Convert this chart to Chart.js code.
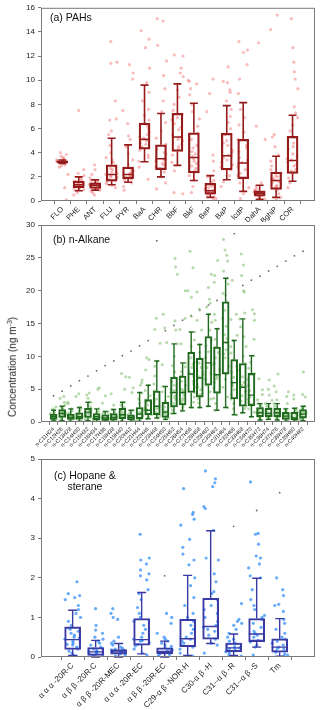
<!DOCTYPE html>
<html>
<head>
<meta charset="utf-8">
<script src="https://cdn.jsdelivr.net/npm/chart.js@4.4.1/dist/chart.umd.min.js"></script>
<style>
  body { margin: 0; background: #fff; width: 320px; height: 710px; position: relative; overflow: hidden;
         font-family: "Liberation Sans", Arial, sans-serif; }
  canvas { position: absolute; left: 0; }
  .lbl { position: absolute; font-size: 10.5px; color: #111; line-height: 11px; }
  #ytitle { position: absolute; left: 12px; top: 367px; font-size: 10px; color: #222; white-space: nowrap;
            transform: translate(-50%, -50%) rotate(-90deg); }
</style>
</head>
<body>
<canvas id="pah" width="320" height="222" style="top:0"></canvas>
<canvas id="alk" width="320" height="238" style="top:212px"></canvas>
<canvas id="hop" width="320" height="262" style="top:448px"></canvas>
<div class="lbl" style="left:50px;top:12px">(a) PAHs</div>
<div class="lbl" style="left:53px;top:234px">(b) n-Alkane</div>
<div class="lbl" style="left:54px;top:470px;text-align:center">(c) Hopane &amp;<br>sterane</div>
<div id="ytitle">Concentration (ng m<sup style="font-size:7px">-3</sup>)</div>

<script>
// ---- (a) PAHs ----
const pahLabels = ["FLO", "PHE", "ANT", "FLU", "PYR", "BaA", "CHR", "BbF", "BkF", "BeP", "BaP", "IcdP", "DahA", "BghiP", "COR"];
const pahLow  = [3.1, 0.85, 0.9, 1.35, 1.55, 3.25, 2.0, 2.95, 1.7, 0.3, 1.76, 0.8, 0.15, 0.3, 1.63];
const pahQ1   = [3.18, 1.1, 1.05, 1.65, 1.85, 4.3, 2.6, 4.1, 2.33, 0.57, 2.58, 1.85, 0.4, 0.95, 2.28];
const pahMed  = [3.25, 1.35, 1.3, 2.2, 2.2, 5.1, 3.5, 5.3, 3.6, 0.85, 3.75, 3.15, 0.65, 1.7, 3.35];
const pahQ3   = [3.32, 1.65, 1.5, 3.0, 2.8, 6.45, 4.65, 7.27, 5.65, 1.46, 5.6, 5.1, 0.85, 2.4, 5.35];
const pahHigh = [3.4, 2.0, 1.75, 5.2, 4.65, 9.6, 7.25, 9.7, 8.1, 2.1, 7.9, 8.15, 1.3, 3.7, 7.1];
const pahPoints = [
  [3.0, 3.1, 3.15, 3.2, 3.22, 3.25, 3.28, 3.3, 3.35, 3.4, 3.5, 3.6, 3.7, 3.85, 4.0, 2.9, 2.8, 2.2, 1.1, 0.1, 3.2, 3.3, 3.45],
  [0.5, 0.7, 0.85, 0.95, 1.05, 1.1, 1.2, 1.3, 1.35, 1.4, 1.5, 1.55, 1.65, 1.75, 1.9, 2.1, 2.3, 2.6, 7.5, 1.25, 1.45, 1.0, 1.6],
  [0.5, 0.7, 0.9, 1.0, 1.1, 1.15, 1.25, 1.3, 1.35, 1.45, 1.5, 1.6, 1.7, 1.9, 2.2, 2.6, 3.0, 1.2, 1.4, 0.8, 1.05],
  [1.1, 1.3, 1.45, 1.6, 1.8, 1.95, 2.1, 2.2, 2.4, 2.6, 2.9, 3.2, 3.6, 4.0, 4.6, 5.5, 5.8, 6.7, 6.8, 8.3, 11.4, 11.5, 13.2, 1.7, 2.0, 2.3, 2.7, 3.4],
  [0.9, 1.2, 1.5, 1.7, 1.9, 2.0, 2.1, 2.3, 2.5, 2.7, 3.0, 3.4, 3.9, 4.5, 5.1, 5.4, 6.4, 7.5, 10.1, 10.6, 11.3, 1.8, 2.2, 2.4, 2.6],
  [1.8, 2.8, 3.3, 3.8, 4.2, 4.5, 4.8, 5.0, 5.2, 5.5, 5.9, 6.3, 6.7, 7.1, 7.6, 8.3, 9.0, 9.8, 11.0, 12.7, 13.4, 14.1, 4.4, 4.7, 5.3, 5.7, 6.1, 3.6],
  [1.0, 1.5, 2.0, 2.4, 2.7, 3.0, 3.3, 3.6, 3.9, 4.3, 4.7, 5.2, 5.8, 6.5, 7.4, 8.3, 9.3, 10.4, 11.6, 12.9, 14.9, 15.1, 2.8, 3.1, 3.4, 4.0],
  [0.6, 0.7, 2.5, 3.2, 3.8, 4.3, 4.7, 5.1, 5.5, 5.9, 6.4, 6.9, 7.5, 8.0, 8.6, 9.2, 10.3, 10.6, 11.0, 12.0, 12.1, 4.5, 5.0, 5.3, 6.1, 6.7, 7.2],
  [0.7, 1.2, 1.7, 2.1, 2.5, 2.9, 3.3, 3.7, 4.1, 4.6, 5.1, 5.6, 6.2, 6.8, 7.4, 8.0, 8.8, 9.3, 9.7, 9.9, 10.0, 2.7, 3.1, 3.5, 3.9, 4.4],
  [0.1, 0.2, 0.35, 0.5, 0.6, 0.7, 0.8, 0.9, 1.0, 1.1, 1.3, 1.5, 1.7, 2.0, 2.5, 3.3, 3.8, 7.4, 8.9, 10.1, 0.65, 0.75, 0.85, 1.2],
  [1.2, 1.6, 2.1, 2.6, 3.0, 3.4, 3.8, 4.2, 4.6, 5.0, 5.5, 6.0, 6.5, 7.0, 7.6, 8.3, 9.0, 9.2, 9.8, 9.9, 11.1, 2.8, 3.2, 3.6, 4.0, 4.8],
  [0.2, 0.6, 1.1, 1.5, 1.9, 2.3, 2.8, 3.2, 3.6, 4.1, 4.6, 5.1, 5.7, 6.3, 6.9, 7.6, 8.9, 10.1, 11.3, 12.3, 12.5, 13.2, 2.1, 2.6, 3.0, 3.4, 4.4],
  [0.05, 0.15, 0.3, 0.4, 0.5, 0.55, 0.6, 0.65, 0.7, 0.8, 0.9, 1.0, 1.2, 1.5, 5.1, 6.2, 13.1, 0.45, 0.6, 0.75],
  [0.1, 0.3, 0.6, 0.9, 1.1, 1.3, 1.5, 1.7, 1.9, 2.1, 2.3, 2.6, 2.9, 3.3, 3.8, 4.5, 5.3, 5.5, 14.2, 15.4, 1.2, 1.6, 1.8, 2.0],
  [1.1, 1.5, 1.9, 2.3, 2.6, 2.9, 3.2, 3.5, 3.9, 4.3, 4.8, 5.3, 5.8, 6.3, 6.9, 7.3, 7.8, 9.3, 10.1, 10.7, 11.5, 12.7, 15.1, 2.5, 3.0, 3.4, 3.7, 4.5]
];

// ---- (b) n-Alkane ----
const alkLabels = ["n-C11H24", "n-C12H26", "n-C13H28", "n-C14H30", "n-C15H32", "n-C16H34", "n-C17H36", "n-C18H38",
  "n-C19H40", "n-C20H42", "n-C21H44", "n-C22H46", "n-C23H48", "n-C24H50", "n-C25H52", "n-C26H54", "n-C27H56",
  "n-C28H58", "n-C29H60", "n-C30H62", "n-C31H64", "n-C32H66", "n-C33H68", "n-C34H70", "n-C35H72", "n-C36H74",
  "n-C37H76", "n-C38H78", "n-C39H80", "n-C40H82"];
const alkLow  = [0.15, 0.2, 0.1, 0.1, 0.2, 0.1, 0.1, 0.1, 0.1, 0.1, 0.1, 0.5, 0.6, 0.4, 1.3, 1.7, 2.2, 2.2, 2.4, 1.8, 2.2, 1.1, 1.4, 0.8, 0.3, 0.4, 0.3, 0.1, 0.1, 0.2];
const alkQ1   = [0.4, 0.7, 0.4, 0.45, 0.7, 0.35, 0.25, 0.3, 0.5, 0.3, 0.5, 1.1, 1.1, 0.7, 2.3, 2.6, 4.5, 3.8, 5.6, 4.4, 7.3, 3.5, 2.4, 2.5, 0.8, 0.8, 0.8, 0.4, 0.3, 0.6];
const alkMed  = [0.8, 1.3, 0.75, 0.8, 1.5, 0.8, 0.6, 0.7, 1.1, 0.7, 1.2, 1.8, 2.4, 1.5, 4.5, 4.5, 7.3, 6.7, 9.0, 7.2, 12.1, 6.0, 5.3, 4.1, 1.4, 1.3, 1.4, 0.9, 0.6, 1.2];
const alkQ3   = [1.2, 1.9, 1.2, 1.4, 2.1, 1.3, 1.1, 1.3, 2.1, 1.1, 2.2, 3.4, 4.7, 3.0, 6.8, 7.0, 10.6, 9.7, 13.0, 11.4, 18.3, 9.5, 8.9, 7.4, 2.2, 2.1, 2.1, 1.5, 1.5, 1.9];
const alkHigh = [1.8, 2.4, 2.0, 2.2, 3.0, 2.0, 1.6, 1.9, 3.0, 1.8, 4.5, 5.6, 9.3, 5.4, 11.9, 9.0, 13.7, 11.8, 16.4, 14.2, 21.9, 12.4, 15.7, 10.1, 2.8, 2.8, 2.8, 2.0, 2.1, 2.4];
const alkPoints = [
  [0.1, 0.3, 0.5, 0.6, 0.7, 0.8, 0.9, 1.0, 1.1, 1.3, 1.5, 1.8, 2.0, 2.3, 0.55, 0.85],
  [0.2, 0.5, 0.8, 1.0, 1.2, 1.4, 1.6, 1.8, 2.0, 2.3, 2.6, 3.0, 3.6, 3.9, 1.1, 1.5],
  [0.1, 0.3, 0.5, 0.6, 0.7, 0.8, 0.9, 1.0, 1.2, 1.4, 1.7, 2.0, 2.8, 3.0, 0.65],
  [0.1, 0.3, 0.5, 0.6, 0.7, 0.9, 1.0, 1.2, 1.4, 1.7, 2.0, 2.3, 3.9, 4.3, 0.8],
  [0.2, 0.5, 0.7, 0.9, 1.2, 1.4, 1.6, 1.8, 2.0, 2.3, 2.6, 3.0, 3.6, 4.1, 4.4, 1.3],
  [0.1, 0.3, 0.4, 0.6, 0.7, 0.8, 0.9, 1.1, 1.3, 1.6, 2.0, 5.0, 5.2, 0.5],
  [0.1, 0.2, 0.3, 0.4, 0.5, 0.6, 0.7, 0.9, 1.1, 1.3, 1.6, 2.9, 4.0, 0.45],
  [0.1, 0.2, 0.3, 0.5, 0.6, 0.7, 0.8, 1.0, 1.2, 1.5, 1.9, 2.6, 4.3, 0.9],
  [0.1, 0.3, 0.5, 0.7, 0.9, 1.1, 1.3, 1.6, 1.9, 2.2, 2.6, 3.0, 5.0, 6.9, 7.4, 1.0],
  [0.1, 0.2, 0.3, 0.5, 0.6, 0.7, 0.8, 0.9, 1.1, 1.4, 1.8, 4.5, 5.2, 6.8],
  [0.1, 0.3, 0.5, 0.8, 1.0, 1.2, 1.5, 1.8, 2.2, 2.8, 3.5, 4.4, 5.6, 6.0, 6.4, 1.4],
  [0.5, 0.8, 1.1, 1.4, 1.7, 1.9, 2.2, 2.6, 3.0, 3.4, 4.0, 4.8, 5.6, 7.9, 9.5, 9.8, 2.0],
  [0.6, 0.9, 1.1, 1.5, 2.0, 2.4, 2.9, 3.5, 4.2, 4.8, 5.8, 7.0, 8.5, 9.3, 12.0, 14.1, 15.8, 2.2, 3.2],
  [0.4, 0.6, 0.8, 1.0, 1.3, 1.6, 1.9, 2.3, 2.8, 3.2, 3.9, 4.6, 5.4, 8.7, 12.1, 14.3, 16.4, 1.5],
  [1.3, 1.8, 2.3, 2.8, 3.4, 4.0, 4.5, 5.0, 5.6, 6.2, 6.8, 7.6, 8.6, 10.0, 11.9, 14.0, 15.4, 22.5, 23.6, 24.9, 3.7, 4.8],
  [1.7, 2.2, 2.6, 3.0, 3.6, 4.1, 4.5, 5.0, 5.6, 6.2, 7.0, 7.7, 8.4, 9.0, 11.9, 14.1, 15.8, 20.0, 3.3, 4.8],
  [2.2, 3.0, 3.8, 4.5, 5.3, 6.2, 7.0, 7.6, 8.3, 9.1, 9.8, 10.6, 11.5, 12.5, 13.7, 16.1, 19.0, 20.0, 23.5, 26.0, 5.8, 8.8],
  [2.2, 2.9, 3.5, 4.2, 4.9, 5.7, 6.3, 6.9, 7.6, 8.3, 9.0, 9.8, 10.6, 11.8, 14.0, 15.5, 17.2, 19.8, 5.3, 7.2],
  [2.4, 3.5, 4.6, 5.6, 6.5, 7.4, 8.3, 9.0, 9.8, 10.7, 11.6, 12.4, 13.0, 14.0, 15.2, 16.4, 17.5, 18.1, 18.7, 20.5, 22.5, 8.7],
  [1.8, 2.8, 3.6, 4.4, 5.2, 6.0, 6.6, 7.2, 8.0, 8.9, 9.8, 10.6, 11.4, 12.6, 14.2, 15.5, 16.4, 21.3, 22.3, 24.6, 6.9],
  [2.2, 3.8, 5.3, 6.5, 7.3, 8.5, 9.8, 11.0, 12.1, 13.3, 14.6, 15.8, 17.0, 18.3, 19.6, 21.0, 21.9, 23.0, 24.5, 25.4, 26.2, 27.8, 10.4, 12.7],
  [1.1, 2.0, 2.8, 3.5, 4.2, 4.9, 5.5, 6.0, 6.8, 7.6, 8.5, 9.5, 10.5, 11.5, 12.4, 13.2, 15.6, 16.4, 21.6, 5.8],
  [1.4, 2.0, 2.4, 3.2, 4.0, 4.7, 5.3, 6.0, 6.9, 7.9, 8.9, 10.0, 11.5, 13.0, 14.5, 15.7, 16.6, 19.8, 20.0, 22.3, 23.9, 25.6, 5.6],
  [0.8, 1.5, 2.0, 2.5, 3.0, 3.5, 4.1, 4.8, 5.6, 6.5, 7.4, 8.2, 9.1, 10.1, 12.6, 15.5, 16.5, 17.1, 3.8],
  [0.3, 0.6, 0.8, 1.0, 1.2, 1.4, 1.6, 1.9, 2.2, 2.5, 2.8, 3.4, 4.2, 4.9, 6.6, 1.5],
  [0.4, 0.6, 0.8, 1.0, 1.2, 1.3, 1.5, 1.8, 2.1, 2.4, 2.8, 3.3, 4.1, 5.0, 6.4, 1.4],
  [0.3, 0.6, 0.8, 1.0, 1.2, 1.4, 1.6, 1.9, 2.1, 2.4, 2.8, 3.4, 4.6, 5.5, 7.3, 1.3],
  [0.1, 0.3, 0.4, 0.6, 0.8, 0.9, 1.0, 1.2, 1.5, 1.7, 2.0, 2.8, 3.9, 4.6, 1.1],
  [0.1, 0.2, 0.3, 0.4, 0.5, 0.6, 0.8, 1.0, 1.3, 1.5, 1.8, 2.1, 3.5, 4.1, 0.7],
  [0.2, 0.4, 0.6, 0.8, 1.0, 1.2, 1.4, 1.6, 1.9, 2.1, 2.4, 3.8, 4.2, 7.6, 1.3]
];
// single grey outlier dots drawn at the box centre
const alkExtreme = [4.0, 4.7, 5.5, 6.3, 7.0, 7.8, 8.6, 9.3, 10.1, 10.8, 11.6, 12.4, 27.6, 13.9, 14.7, 15.5, 16.2, 17.0,
  17.8, 18.5, 19.3, 28.7, 20.8, 21.6, 22.2, 23.0, 23.7, 24.5, 25.3, 26.0];

// ---- (c) Hopane & sterane ----
const hopLabels = ["α α α -20R-C", "α β β -20R-C", "α β β -20R-MEC", "α α α -20R-EC", "α β β -20R-EC",
  "C29-α β -NOR-H", "C30-α β -H", "C31--α β -R", "C31--α β -S", "Tm"];
const hopLow  = [0.04, 0.0, 0.0, 0.08, 0.0, 0.04, 0.34, 0.04, 0.25, 0.02];
const hopQ1   = [0.19, 0.04, 0.07, 0.3, 0.08, 0.26, 0.45, 0.13, 0.39, 0.12];
const hopMed  = [0.44, 0.13, 0.13, 0.44, 0.14, 0.46, 0.77, 0.23, 0.58, 0.25];
const hopQ3   = [0.76, 0.24, 0.19, 0.97, 0.23, 0.95, 1.48, 0.35, 0.97, 0.46];
const hopHigh = [1.18, 0.42, 0.34, 1.63, 0.4, 2.06, 3.19, 0.58, 1.99, 0.97];
const hopPoints = [
  [0.02, 0.05, 0.1, 0.15, 0.2, 0.25, 0.3, 0.35, 0.4, 0.45, 0.5, 0.55, 0.6, 0.65, 0.7, 0.8, 0.9, 1.0, 1.1, 1.2, 1.3, 1.45, 1.5, 1.55, 1.6, 1.9, 0.32, 0.48],
  [0.0, 0.02, 0.04, 0.06, 0.08, 0.1, 0.12, 0.14, 0.16, 0.2, 0.22, 0.25, 0.3, 0.35, 0.4, 0.45, 0.5, 0.6, 0.68, 0.8, 1.22, 0.09, 0.15],
  [0.0, 0.02, 0.05, 0.08, 0.1, 0.12, 0.14, 0.16, 0.18, 0.2, 0.22, 0.25, 0.3, 0.35, 0.4, 0.5, 0.95, 1.0, 1.1, 1.22, 0.13, 0.17],
  [0.05, 0.1, 0.2, 0.28, 0.32, 0.36, 0.4, 0.45, 0.5, 0.6, 0.7, 0.8, 0.9, 1.0, 1.1, 1.25, 1.45, 1.6, 1.7, 1.95, 2.05, 2.1, 2.2, 2.35, 2.45, 2.5, 3.1, 0.42],
  [0.0, 0.03, 0.06, 0.08, 0.1, 0.12, 0.14, 0.16, 0.18, 0.2, 0.23, 0.27, 0.3, 0.35, 0.4, 0.45, 0.5, 0.6, 0.85, 1.0, 1.1, 0.11],
  [0.02, 0.1, 0.2, 0.25, 0.3, 0.35, 0.4, 0.45, 0.5, 0.6, 0.7, 0.8, 0.9, 1.0, 1.1, 1.3, 1.5, 1.8, 2.0, 2.33, 2.45, 2.6, 2.77, 2.97, 3.33, 3.48, 3.6, 3.65, 4.25],
  [0.1, 0.3, 0.35, 0.45, 0.55, 0.65, 0.75, 0.8, 0.9, 1.0, 1.1, 1.2, 1.3, 1.45, 1.6, 1.65, 1.9, 2.1, 2.45, 2.5, 3.2, 3.75, 3.8, 4.3, 4.4, 4.5, 4.7, 0.7],
  [0.02, 0.05, 0.1, 0.13, 0.16, 0.2, 0.23, 0.26, 0.3, 0.35, 0.4, 0.45, 0.5, 0.6, 0.7, 0.8, 0.85, 0.9, 0.95, 1.35, 0.21],
  [0.05, 0.25, 0.3, 0.38, 0.42, 0.5, 0.55, 0.6, 0.65, 0.75, 0.85, 0.95, 1.0, 1.05, 1.2, 1.3, 1.45, 1.7, 2.0, 2.05, 2.25, 2.35, 2.5, 2.55, 2.85, 3.1, 3.12, 4.42],
  [0.02, 0.05, 0.08, 0.12, 0.15, 0.2, 0.25, 0.3, 0.35, 0.4, 0.45, 0.5, 0.6, 0.7, 0.85, 0.95, 1.15, 1.3, 1.33, 1.55, 1.7, 2.0, 0.22]
];
const hopExtreme = [null, null, null, null, 2.05, null, null, 3.3, 3.7, 4.15];

const boxPlugin = {
  id: 'boxes',
  afterDatasetsDraw(chart, args, o) {
    const { ctx, chartArea: a, scales: { x, y } } = chart;
    ctx.save();
    ctx.strokeStyle = o.color;
    ctx.lineWidth = o.width;
    o.low.forEach((lo, i) => {
      const cx = x.getPixelForValue(i);
      const cap = o.cap / 2, half = o.box / 2;
      ctx.beginPath();
      ctx.moveTo(cx, y.getPixelForValue(lo));
      ctx.lineTo(cx, y.getPixelForValue(o.q1[i]));
      ctx.moveTo(cx, y.getPixelForValue(o.q3[i]));
      ctx.lineTo(cx, y.getPixelForValue(o.high[i]));
      [lo, o.high[i]].forEach(v => {
        const py = y.getPixelForValue(v);
        ctx.moveTo(cx - cap, py);
        ctx.lineTo(cx + cap, py);
      });
      const pm = y.getPixelForValue(o.med[i]);
      ctx.moveTo(cx - half, pm);
      ctx.lineTo(cx + half, pm);
      ctx.stroke();
    });
    ctx.strokeStyle = '#7a7a7a';
    ctx.lineWidth = 1;
    ctx.strokeRect(a.left + 0.5, a.top + 0.5, a.width - 1, a.height - 1);
    ctx.restore();
  }
};

// horizontal scatter of the dots around each box (position only)
function jitterPoints(points, spread) {
  const out = [];
  points.forEach((vals, i) => {
    vals.forEach((v, k) => {
      const s = Math.sin((k + 1) * 12.9898 + (i + 1) * 78.233) * 43758.5453;
      const f = s - Math.floor(s) - 0.5;
      out.push({ x: i + f * spread, y: v });
    });
  });
  return out;
}

function makePanel(id, p) {
  const boxes = p.labels.map((_, i) => ({ x: i, y: [p.q1[i], p.q3[i]] }));
  const datasets = [
    { type: 'bar', data: boxes, backgroundColor: 'rgba(0,0,0,0)', borderColor: p.line, borderWidth: p.lw,
      borderSkipped: false, barThickness: p.box },
    { type: 'scatter', data: jitterPoints(p.points, p.spread), pointRadius: p.r, pointBackgroundColor: p.dot,
      pointBorderWidth: 0 }
  ];
  if (p.extreme) {
    datasets.push({ type: 'scatter', data: p.extreme.map((v, i) => ({ x: i, y: v })).filter(d => d.y !== null),
      pointRadius: 0.9, pointBackgroundColor: '#666', pointBorderWidth: 0 });
  }
  new Chart(document.getElementById(id), {
    type: 'scatter',
    data: { datasets },
    options: {
      responsive: false,
      animation: false,
      layout: { padding: { top: p.top, right: 5, left: 0, bottom: 0 } },
      plugins: {
        legend: { display: false }, tooltip: { enabled: false },
        boxes: { color: p.line, width: p.lw, low: p.low, q1: p.q1, med: p.med, q3: p.q3, high: p.high, box: p.box, cap: p.cap }
      },
      scales: {
        x: {
          type: 'linear', min: p.xmin, max: p.xmax,
          afterBuildTicks: s => { s.ticks = p.labels.map((_, i) => ({ value: i })); },
          afterFit: s => { s.height = p.xh; },
          ticks: { autoSkip: false, minRotation: 45, maxRotation: 45, padding: 1, color: '#222',
                   font: { size: p.xfont, family: 'Liberation Sans' }, callback: v => p.labels[v] },
          grid: { display: true, drawOnChartArea: false, tickLength: 3, color: '#7a7a7a' },
          border: { display: false }
        },
        y: {
          min: 0, max: p.ymax,
          afterFit: s => { s.width = 41; },
          ticks: { stepSize: p.step, padding: 3, color: '#222', font: { size: 8, family: 'Liberation Sans' } },
          grid: { display: true, drawOnChartArea: false, tickLength: 3, color: '#7a7a7a' },
          border: { display: false }
        }
      }
    },
    plugins: [boxPlugin]
  });
}

makePanel('pah', {
  labels: pahLabels, low: pahLow, q1: pahQ1, med: pahMed, q3: pahQ3, high: pahHigh, points: pahPoints,
  line: '#961c1c', lw: 1.6, dot: 'rgba(240,95,95,0.42)', r: 1.6, spread: 0.7, box: 11, cap: 8,
  xmin: -0.74, xmax: 14.81, ymax: 16, step: 2, top: 4, xh: 21, xfont: 7.5
});
makePanel('alk', {
  labels: alkLabels, low: alkLow, q1: alkQ1, med: alkMed, q3: alkQ3, high: alkHigh, points: alkPoints,
  extreme: alkExtreme,
  line: '#1f6a1f', lw: 1.4, dot: 'rgba(110,180,90,0.5)', r: 1.5, spread: 0.8, box: 7, cap: 5,
  xmin: -0.93, xmax: 29.86, ymax: 30, step: 5, top: 13, xh: 28, xfont: 5.5
});
makePanel('hop', {
  labels: hopLabels, low: hopLow, q1: hopQ1, med: hopMed, q3: hopQ3, high: hopHigh, points: hopPoints,
  extreme: hopExtreme,
  line: '#3a3aa5', lw: 1.4, dot: 'rgba(40,135,250,0.7)', r: 1.6, spread: 0.7, box: 16, cap: 9,
  xmin: -0.78, xmax: 9.94, ymax: 5, step: 1, top: 11, xh: 53, xfont: 8
});
</script>
</body>
</html>
